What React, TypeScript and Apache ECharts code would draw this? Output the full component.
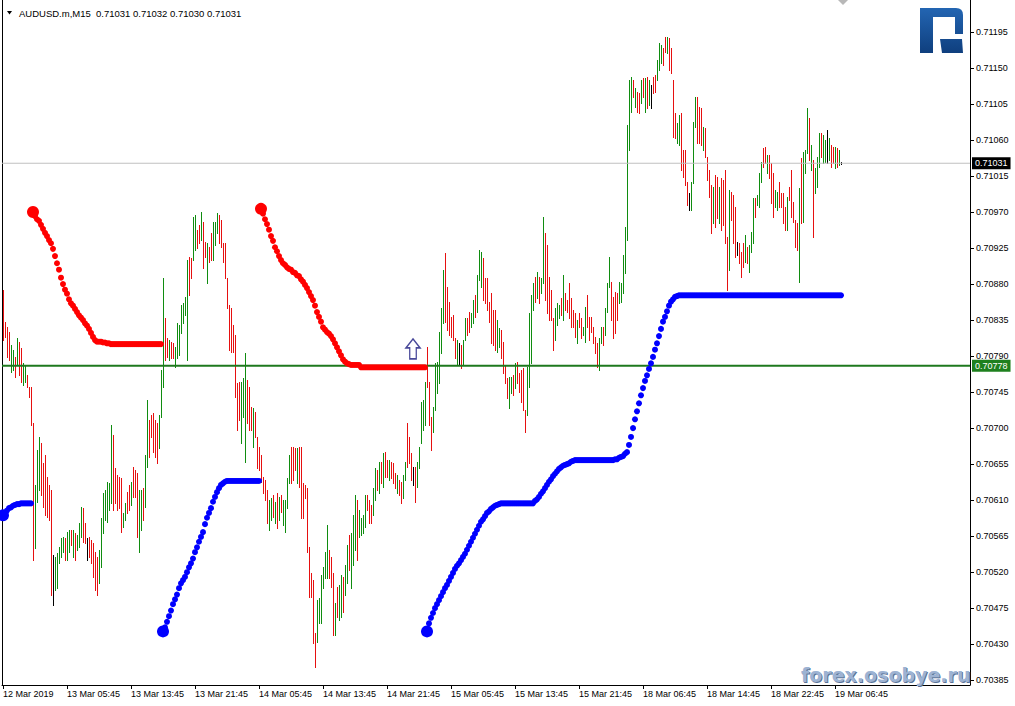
import React, { useEffect, useRef } from "react";
import * as echarts from "echarts";

// price = BASE + points * POINT
const BASE = 0.7;
const POINT = 0.00001;

const barHigh = [
  873, 833, 826, 820, 804, 798, 789, 813, 808, 800,
  781, 779, 766, 751, 751, 706, 629, 673, 689, 681,
  656, 666, 639, 629, 623, 541, 539, 544, 551, 563,
  564, 563, 570, 573, 573, 573, 569, 566, 581, 601,
  600, 581, 563, 564, 560, 556, 545, 539, 548, 588,
  619, 623, 633, 631, 704, 691, 650, 641, 639, 638,
  594, 606, 620, 629, 633, 651, 648, 644, 623, 623,
  625, 666, 735, 710, 716, 719, 710, 706, 716, 773,
  888, 838, 813, 810, 808, 806, 801, 831, 829, 854,
  856, 864, 910, 914, 913, 964, 966, 948, 954, 970,
  958, 933, 931, 926, 944, 958, 958, 969, 966, 960,
  931, 931, 888, 854, 850, 829, 816, 756, 758, 758,
  763, 794, 760, 751, 726, 725, 720, 689, 676, 666,
  639, 635, 623, 610, 613, 616, 608, 619, 614, 616,
  610, 610, 638, 666, 676, 676, 675, 675, 676, 676,
  631, 629, 625, 551, 519, 510, 444, 485, 488, 516,
  526, 545, 579, 548, 539, 519, 481, 501, 504, 516,
  514, 529, 554, 566, 569, 591, 616, 610, 598, 588,
  591, 616, 616, 610, 604, 625, 650, 648, 658, 658,
  669, 670, 660, 660, 658, 656, 644, 641, 635, 633,
  641, 658, 706, 689, 669, 651, 651, 658, 676, 733,
  735, 758, 801, 758, 714, 726, 781, 783, 820, 850,
  898, 919, 876, 858, 839, 841, 813, 810, 806, 804,
  810, 838, 838, 845, 844, 860, 866, 891, 923, 920,
  913, 888, 888, 858, 869, 848, 848, 835, 825, 823,
  808, 779, 763, 764, 764, 766, 781, 783, 769, 773,
  775, 723, 776, 844, 866, 881, 889, 895, 889, 888,
  964, 944, 929, 889, 873, 838, 850, 856, 854, 863,
  891, 869, 860, 881, 863, 848, 844, 835, 844, 838,
  826, 851, 866, 839, 839, 826, 814, 806, 813, 826,
  826, 850, 881, 914, 883, 864, 870, 869, 883, 881,
  916, 951, 1079, 1135, 1139, 1135, 1125, 1120, 1119, 1135,
  1138, 1138, 1139, 1135, 1129, 1139, 1141, 1160, 1181, 1179,
  1175, 1189, 1189, 1188, 1175, 1135, 1094, 1081, 1091, 1094,
  1048, 1048, 1008, 994, 1008, 1083, 1114, 1114, 1101, 1100,
  1076, 1075, 1039, 1023, 1004, 1001, 1016, 1014, 1001, 1013,
  1010, 1023, 939, 998, 995, 991, 976, 933, 931, 920,
  931, 941, 926, 929, 945, 988, 988, 991, 1019, 1033,
  1050, 1051, 1041, 1041, 1031, 1019, 998, 995, 1008, 994,
  994, 976, 989, 1001, 1023, 983, 960, 956, 1000, 1038,
  1045, 1048, 1100, 1088, 1054, 1035, 1025, 1039, 1069, 1069,
  1066, 1060, 1073, 1063, 1054, 1051, 1051, 1050, 1048, 1032,
];

const barLow = [
  810, 814, 789, 785, 770, 773, 764, 779, 766, 758,
  754, 758, 751, 739, 704, 535, 550, 608, 623, 616,
  601, 591, 589, 585, 491, 479, 498, 500, 531, 539,
  545, 535, 535, 545, 554, 539, 535, 548, 551, 564,
  558, 556, 535, 539, 531, 514, 498, 491, 506, 526,
  569, 585, 583, 598, 606, 598, 606, 598, 600, 570,
  576, 585, 594, 598, 604, 614, 614, 564, 545, 573,
  585, 601, 651, 664, 689, 670, 664, 656, 675, 714,
  751, 785, 789, 785, 788, 788, 776, 788, 791, 819,
  831, 841, 785, 866, 888, 910, 923, 925, 931, 935,
  900, 914, 881, 908, 910, 910, 929, 944, 931, 926,
  908, 888, 850, 798, 795, 795, 739, 698, 710, 681,
  714, 658, 706, 698, 698, 676, 689, 650, 648, 633,
  619, 610, 581, 573, 585, 589, 581, 575, 585, 595,
  579, 570, 600, 631, 631, 635, 648, 631, 626, 588,
  588, 613, 545, 489, 489, 431, 401, 433, 456, 456,
  500, 513, 513, 513, 501, 441, 441, 464, 460, 464,
  470, 491, 506, 523, 500, 529, 548, 535, 564, 566,
  569, 576, 598, 581, 581, 591, 610, 623, 619, 631,
  626, 639, 639, 635, 638, 631, 625, 619, 616, 606,
  613, 635, 651, 656, 635, 629, 608, 626, 650, 681,
  698, 704, 751, 704, 673, 695, 723, 744, 756, 794,
  831, 833, 823, 816, 814, 810, 788, 779, 779, 775,
  779, 810, 816, 820, 826, 831, 839, 845, 885, 876,
  860, 856, 848, 833, 806, 804, 798, 795, 801, 788,
  769, 756, 738, 725, 744, 741, 750, 756, 745, 733,
  723, 695, 716, 751, 781, 848, 858, 863, 856, 869,
  881, 860, 844, 835, 835, 798, 810, 829, 838, 841,
  835, 848, 845, 838, 826, 826, 814, 806, 826, 813,
  816, 808, 826, 810, 820, 806, 794, 776, 773, 806,
  804, 816, 845, 876, 835, 813, 819, 835, 856, 858,
  869, 894, 935, 1048, 1095, 1114, 1101, 1095, 1094, 1106,
  1114, 1095, 1100, 1104, 1100, 1119, 1120, 1135, 1148, 1156,
  1154, 1170, 1169, 1148, 1144, 1064, 1063, 1056, 1054, 1023,
  1014, 1004, 979, 973, 973, 1006, 1076, 1056, 1056, 1054,
  1048, 1039, 1010, 989, 944, 956, 951, 963, 956, 948,
  954, 931, 873, 898, 960, 931, 914, 916, 906, 889,
  901, 908, 906, 895, 920, 931, 964, 979, 976, 1008,
  1026, 1031, 1019, 1013, 981, 964, 976, 973, 976, 976,
  956, 948, 948, 985, 964, 958, 926, 923, 883, 956,
  958, 1019, 1044, 1035, 1023, 939, 994, 1001, 1026, 1039,
  1031, 1033, 1031, 1035, 1026, 1031, 1025, 1026, 1029, 1030,
];

// u = up bar (green), d = down bar (red), n = unchanged (black)
const barDir =
  "dddduududd" + "uudddduuud" + "dddddnuuuu" + "uduududuuu" + "ddnddddduu" +
  "uuuuuddddd" + "uudduddduu" + "duuddddduu" + "uddudduuuu" + "uuudduuddu" +
  "ddudduuudd" + "dddddddddu" + "uudddudddd" + "ddduududud" + "uuuudddudd" +
  "ddddddduuu" + "uuuddduduu" + "duuduuuduu" + "uuddduudud" + "uddudddudd" +
  "uudddnduuu" + "uuddduuuuu" + "uddddddund" + "uudduuduuu" + "ddddddduud" +
  "ddduududdd" + "dduuuududu" + "uddddduuud" + "uddddddudd" + "uudddddduu" +
  "duuudddduu" + "uuuuududdu" + "dudundduuu" + "ddudddduud" + "dddnuuuddd" +
  "udddduddud" + "dddudddndd" + "duduuuduuu" + "dduddduudd" + "ddudddddud" +
  "uuududuuud" + "uunuddudun";

// Parabolic SAR dots, each segment starts at the given bar index
const sarBlueAStart = 0;
const sarBlueA = [591, 594, 597, 600, 601, 603, 604, 605, 605, 606, 606, 606, 606, 606, 606];

const sarRedAStart = 15;
const sarRedA = [
  970, 965, 961, 959, 954, 949, 944, 940, 935, 931, 924, 915, 906, 898, 888, 880, 873, 868, 861, 856,
  853, 849, 845, 841, 838, 835, 831, 828, 824, 819, 814, 810, 808, 808, 808, 807, 807, 806, 806, 805,
  805, 805, 805, 805, 805, 805, 805, 805, 805, 805, 805, 805, 805, 805, 805, 805, 805, 805, 805, 805,
  805, 805, 805, 805, 805,
];

const sarBlueBStart = 80;
const sarBlueB = [
  446, 451, 458, 465, 472, 480, 486, 492, 500, 506, 510, 514, 520, 526, 531, 537, 545, 551, 558, 564,
  570, 580, 588, 594, 600, 608, 614, 620, 625, 629, 631, 633, 634, 634, 634, 634, 634, 634, 634, 634,
  634, 634, 634, 634, 634, 634, 634, 634, 634,
];

const sarRedBStart = 129;
const sarRedB = [
  974, 968, 961, 955, 948, 940, 934, 926, 921, 915, 910, 906, 904, 901, 899, 898, 895, 894, 891, 890,
  886, 883, 879, 875, 870, 865, 860, 853, 845, 839, 833, 826, 823, 820, 818, 815, 811, 806, 801, 796,
  791, 786, 783, 781, 780, 779, 779, 779, 779, 779, 776, 776, 776, 776, 776, 776, 776, 776, 776, 776,
  776, 776, 776, 776, 776, 776, 776, 776, 776, 776, 776, 776, 776, 776, 776, 776, 776, 776, 776, 776,
  776, 776, 776,
];

const sarBlueCStart = 212;
const sarBlueC = [
  446, 456, 463, 469, 475, 480, 485, 490, 495, 500, 504, 509, 514, 519, 524, 528, 531, 535, 539, 543,
  548, 553, 558, 563, 568, 573, 578, 583, 586, 590, 594, 596, 599, 601, 603, 604, 605, 606, 606, 606,
  606, 606, 606, 606, 606, 606, 606, 606, 606, 606, 606, 606, 606, 606, 609, 611, 614, 618, 621, 625,
  629, 633, 636, 640, 643, 646, 649, 651, 653, 654, 655, 656, 658, 659, 660, 660, 660, 660, 660, 660,
  660, 660, 660, 660, 660, 660, 660, 660, 660, 660, 660, 660, 660, 660, 661, 661, 663, 664, 665, 668,
  670, 679, 689, 700, 711, 721, 731, 741, 750, 759, 766, 774, 781, 789, 798, 806, 815, 824, 833, 839,
  846, 853, 858, 861, 864, 865, 866, 866, 866, 866, 866, 866, 866, 866, 866, 866, 866, 866, 866, 866,
  866, 866, 866, 866, 866, 866, 866, 866, 866, 866, 866, 866, 866, 866, 866, 866, 866, 866, 866, 866,
  866, 866, 866, 866, 866, 866, 866, 866, 866, 866, 866, 866, 866, 866, 866, 866, 866, 866, 866, 866,
  866, 866, 866, 866, 866, 866, 866, 866, 866, 866, 866, 866, 866, 866, 866, 866, 866, 866, 866, 866,
  866, 866, 866, 866, 866, 866, 866, 866,
];

const xTickIndex = [0, 32, 64, 96, 128, 160, 192, 224, 256, 288, 320, 352, 384, 416];
const xTickLabels = [
  "12 Mar 2019", "13 Mar 05:45", "13 Mar 13:45", "13 Mar 21:45", "14 Mar 05:45",
  "14 Mar 13:45", "14 Mar 21:45", "15 Mar 05:45", "15 Mar 13:45", "15 Mar 21:45",
  "18 Mar 06:45", "18 Mar 14:45", "18 Mar 22:45", "19 Mar 06:45",
];

const yTickValues = [
  0.70385, 0.7043, 0.70475, 0.7052, 0.70565, 0.7061, 0.70655, 0.707, 0.70745, 0.7079,
  0.70835, 0.7088, 0.70925, 0.7097, 0.71015, 0.7106, 0.71105, 0.7115, 0.71195,
];

const Y_MIN = 0.70379;
const Y_MAX = 0.71235;
const X_MIN = -0.5;
const X_MAX = 483.5;

const LEVEL = 0.70778;
const BID = 0.71031;
const ARROW_AT = [205, 0.70799];
const TITLE = "AUDUSD.m,M15  0.71031 0.71032 0.71030 0.71031";
const WATERMARK = "forex.osobye.ru";

const FONT = "'Liberation Sans', Arial, sans-serif";
const UP_COLOR = "#108c10";
const DOWN_COLOR = "#e61010";
const FLAT_COLOR = "#000000";
const BAR_WIDTH = 1;

let logoRegistered = false;
function registerLogo() {
  if (logoRegistered) return;
  logoRegistered = true;
  const d =
    "M0 0 H36 Q43 0 43 7 V26 H35 V9 H13 V45 H0 Z M20 31 H42 L43 45 H22 Z";
  echarts.graphic.registerShape("rlogo", echarts.graphic.extendPath(d, {}) as any);
}

function sarSeries(name: string, start: number, values: number[], color: string) {
  return {
    name,
    type: "scatter",
    z: 5,
    silent: true,
    symbol: "circle",
    symbolSize: (_v: any, p: any) => (p.dataIndex === 0 ? 12 : 6),
    itemStyle: { color, opacity: 1 },
    data: values.map((v, k) => [start + k, BASE + v * POINT]),
  };
}

function levelSeries(name: string, value: number, color: string, width: number, boxColor: string, z: number) {
  return {
    name,
    type: "line",
    z,
    silent: true,
    showSymbol: false,
    symbol: "none",
    lineStyle: { color, width, type: "solid" },
    data: [
      [X_MIN, value],
      [X_MAX, value],
    ],
    endLabel: {
      show: true,
      distance: 2,
      formatter: () => value.toFixed(5),
      color: "#ffffff",
      backgroundColor: boxColor,
      padding: [2, 3, 1, 3],
      fontSize: 9,
      fontFamily: FONT,
    },
  };
}

export default function App() {
  const ref = useRef<HTMLDivElement>(null);

  useEffect(() => {
    if (!ref.current) return;
    registerLogo();
    const chart = echarts.init(ref.current, null, { renderer: "svg" });

    const bars = barHigh.map((h, i) => [i, BASE + h * POINT, BASE + barLow[i] * POINT]);

    const option: any = {
      animation: false,
      backgroundColor: "#ffffff",
      title: {
        text: TITLE,
        left: 19,
        top: 8,
        padding: 0,
        textStyle: { fontSize: 9.5, fontWeight: "normal", color: "#000", fontFamily: FONT },
      },
      grid: { left: 2, right: 45, top: 0, bottom: 21, containLabel: false },
      xAxis: {
        type: "value",
        min: X_MIN,
        max: X_MAX,
        axisLine: { show: true, onZero: false, lineStyle: { color: "#000", width: 1 } },
        axisTick: { show: true, length: 4, customValues: xTickIndex, lineStyle: { color: "#000" } },
        axisLabel: {
          customValues: xTickIndex,
          formatter: (v: number) => xTickLabels[xTickIndex.indexOf(Math.round(v))] ?? "",
          align: "left",
          color: "#000",
          fontSize: 9,
          fontFamily: FONT,
          margin: 4,
        },
        splitLine: { show: false },
      },
      yAxis: [
        {
          type: "value",
          position: "right",
          min: Y_MIN,
          max: Y_MAX,
          axisLine: { show: true, onZero: false, lineStyle: { color: "#000", width: 1 } },
          axisTick: { show: true, length: 4, customValues: yTickValues, lineStyle: { color: "#000" } },
          axisLabel: {
            customValues: yTickValues,
            formatter: (v: number) => v.toFixed(5),
            color: "#000",
            fontSize: 9,
            fontFamily: FONT,
            margin: 6,
          },
          splitLine: { show: false },
        },
        {
          type: "value",
          position: "left",
          min: Y_MIN,
          max: Y_MAX,
          axisLine: { show: true, onZero: false, lineStyle: { color: "#000", width: 1 } },
          axisTick: { show: false },
          axisLabel: { show: false },
          splitLine: { show: false },
        },
      ],
      series: [
        {
          type: "custom",
          name: "bars",
          z: 2,
          silent: true,
          dimensions: ["i", "high", "low"],
          encode: { x: 0, y: [1, 2] },
          data: bars,
          renderItem: (params: any, api: any) => {
            const idx = params.dataIndex;
            const i = api.value(0);
            const hi = api.coord([i, api.value(1)]);
            const lo = api.coord([i, api.value(2)]);
            const d = barDir.charAt(idx);
            const color = d === "u" ? UP_COLOR : d === "d" ? DOWN_COLOR : FLAT_COLOR;
            const x = Math.round(hi[0]);
            const y1 = Math.round(hi[1]);
            const y2 = Math.round(lo[1]) + 1;
            return {
              type: "rect",
              shape: { x, y: y1, width: BAR_WIDTH, height: Math.max(1, y2 - y1) },
              style: { fill: color, stroke: null },
            };
          },
        },
        levelSeries("bid", BID, "#c0c0c0", 1, "#000000", 3),
        levelSeries("level", LEVEL, "#1e781e", 2, "#1e801e", 3),
        sarSeries("sarBlueA", sarBlueAStart, sarBlueA, "#0000ff"),
        sarSeries("sarRedA", sarRedAStart, sarRedA, "#ff0000"),
        sarSeries("sarBlueB", sarBlueBStart, sarBlueB, "#0000ff"),
        sarSeries("sarRedB", sarRedBStart, sarRedB, "#ff0000"),
        sarSeries("sarBlueC", sarBlueCStart, sarBlueC, "#0000ff"),
        {
          type: "scatter",
          name: "arrow",
          z: 6,
          silent: true,
          symbol: "path://M7.5 0 L15 9 L11 9 L11 20 L4 20 L4 9 L0 9 Z",
          symbolSize: [14, 20],
          itemStyle: { color: "#ffffff", borderColor: "#1a1a80", borderWidth: 1.5 },
          data: [ARROW_AT],
        },
      ],
      graphic: [
        {
          type: "polygon",
          z: 10,
          silent: true,
          shape: { points: [[7, 11], [12, 11], [9.5, 14.5]] },
          style: { fill: "#000" },
        },
        {
          type: "polygon",
          z: 10,
          silent: true,
          shape: { points: [[838, 0], [848, 0], [843, 5]] },
          style: { fill: "#b8b8b8" },
        },
        {
          type: "rlogo",
          x: 920,
          y: 8,
          scaleX: 1,
          scaleY: 1,
          z: 10,
          silent: true,
          style: {
            fill: new echarts.graphic.LinearGradient(0, 0, 0, 1, [
              { offset: 0, color: "#2365b2" },
              { offset: 1, color: "#0f3f7e" },
            ]),
          },
        },
        {
          type: "text",
          x: 802,
          y: 666,
          z: 1,
          silent: true,
          style: { text: WATERMARK, font: "bold 19px 'DejaVu Sans', Verdana, sans-serif", fill: "#5a7398" },
        },
        {
          type: "text",
          x: 801,
          y: 665,
          z: 1,
          silent: true,
          style: { text: WATERMARK, font: "bold 19px 'DejaVu Sans', Verdana, sans-serif", fill: "#9db3d3" },
        },
      ],
    };

    chart.setOption(option);
    return () => chart.dispose();
  }, []);

  return (
    <div
      ref={ref}
      style={{ position: "absolute", left: 0, top: 0, width: 1015, height: 706, background: "#fff" }}
    />
  );
}
